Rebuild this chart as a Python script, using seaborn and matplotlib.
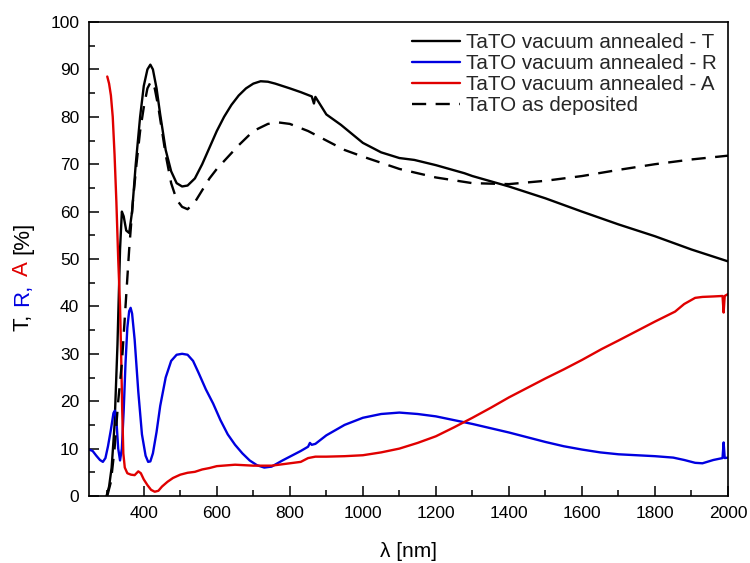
import matplotlib
matplotlib.use("Agg")
import matplotlib.pyplot as plt
import seaborn as sns
import pandas as pd
from matplotlib.ticker import MultipleLocator

# ---------------- data ----------------
wl_T = [298, 305, 312, 320, 328, 335, 340, 345, 352, 360, 368, 378, 390, 400, 410,
        418, 425, 435, 445, 460, 475, 490, 505, 520, 540, 560, 580, 600, 620, 640,
        660, 680, 700, 720, 740, 760, 780, 800, 830, 860, 866, 870, 900, 940, 1000,
        1050, 1100, 1141, 1200, 1278, 1300, 1400, 1500, 1600, 1700, 1800, 1900, 2000]
T_ann = [0, 2, 6, 15, 32, 52, 60, 59, 56, 55.5, 60, 70, 80, 86.5, 90,
         91, 90, 86, 80.5, 73, 68.5, 66, 65.3, 65.5, 67, 70, 73.5, 77, 80, 82.5,
         84.5, 86, 87, 87.5, 87.4, 87, 86.5, 86, 85.2, 84.3, 82.8, 84.2, 80.5, 78.3, 74.5,
         72.5, 71.3, 70.9, 69.8, 68.1, 67.5, 65.3, 62.8, 60, 57.3, 54.8, 52, 49.5]

wl_D = [300, 310, 320, 330, 340, 350, 360, 370, 380, 390, 400, 410, 420, 430, 440,
        450, 460, 475, 490, 505, 520, 540, 560, 580, 600, 630, 660, 700, 740, 770,
        800, 850, 900, 950, 1000, 1100, 1200, 1300, 1400, 1500, 1600, 1700, 1800,
        1900, 2000]
T_dep = [0, 3, 10, 20, 28, 40, 52, 62, 70, 77, 82, 86, 87.5, 86, 82,
         77, 72, 66, 62.5, 61, 60.5, 62, 64.5, 67, 69, 71.5, 74, 77, 78.5, 78.8,
         78.5, 77, 75, 73, 71.6, 69, 67.2, 66, 65.8, 66.5, 67.5, 68.8, 70,
         71, 71.8]

wl_R = [250, 260, 270, 280, 288, 295, 302, 310, 317, 321, 325, 330, 335, 340, 345,
        350, 355, 360, 364, 368, 375, 385, 395, 405, 412, 418, 425, 435, 445, 460,
        475, 490, 505, 520, 535, 550, 570, 590, 610, 630, 650, 670, 690, 710, 730,
        750, 780, 800, 830, 850, 855, 860, 870, 900, 950, 1000, 1050, 1100, 1150,
        1200, 1250, 1300, 1350, 1400, 1450, 1500, 1550, 1600, 1650, 1700, 1750,
        1800, 1850, 1880, 1910, 1930, 1960, 1985, 1988, 1991, 2000]
R_ann = [9.8, 9.5, 8.5, 7.6, 7.2, 8, 10.5, 14, 17.5, 18, 16, 10, 7.5, 10, 18,
         28, 35.5, 39, 39.7, 38.5, 33, 22, 13, 8.5, 7.2, 7.3, 9, 13.5, 19, 25,
         28.5, 29.8, 30, 29.8, 28.5, 26, 22.5, 19.5, 16, 13, 10.8, 9, 7.5, 6.5, 6.0,
         6.2, 7.5, 8.3, 9.5, 10.4, 11.2, 10.8, 11, 12.8, 15, 16.5, 17.3, 17.6, 17.3,
         16.8, 16, 15.2, 14.3, 13.4, 12.4, 11.4, 10.5, 9.8, 9.2, 8.8, 8.6,
         8.4, 8.1, 7.6, 7.0, 6.9, 7.6, 8.0, 11.3, 8.0, 8.1]

wl_A = [300, 305, 310, 315, 320, 325, 330, 335, 338, 341, 344, 348, 355, 365, 375,
        385, 392, 400, 410, 420, 430, 440, 450, 465, 480, 500, 520, 540, 560, 580,
        600, 650, 700, 750, 800, 830, 850, 870, 900, 950, 1000, 1050, 1100, 1150,
        1200, 1250, 1300, 1350, 1400, 1450, 1500, 1550, 1600, 1654, 1700, 1750,
        1800, 1855, 1880, 1910, 1930, 1960, 1985, 1988, 1991, 2000]
A_ann = [88.5, 87, 84.5, 80, 72, 62, 50, 40, 30, 18, 9, 6, 4.8, 4.5, 4.4,
         5.2, 4.8, 3.5, 2.3, 1.3, 0.9, 1.1, 2, 3, 3.8, 4.5, 4.9, 5.1, 5.6, 5.9,
         6.3, 6.6, 6.4, 6.4, 6.9, 7.2, 8, 8.3, 8.3, 8.4, 8.6, 9.2, 10, 11.2,
         12.6, 14.5, 16.5, 18.6, 20.8, 22.8, 24.8, 26.7, 28.7, 31, 32.8, 34.8,
         36.8, 38.9, 40.5, 41.8, 42, 42.1, 42.2, 38.7, 42.2, 42.6]

labels = ["TaTO vacuum annealed - T", "TaTO vacuum annealed - R",
          "TaTO vacuum annealed - A", "TaTO as deposited"]
xticks_major = list(range(400, 2001, 200))

# ---------------- style ----------------
sns.set_style("ticks")
plt.rcParams['font.family'] = ['Liberation Sans', 'DejaVu Sans']

W, H = 750, 563
fig = plt.figure(figsize=(W / 100, H / 100), dpi=100)
ax = fig.add_axes([89 / W, 1 - 496 / H, (728 - 89) / W, (496 - 22) / H])

dfT = pd.DataFrame({"wl": wl_T, "v": T_ann})
dfR = pd.DataFrame({"wl": wl_R, "v": R_ann})
dfA = pd.DataFrame({"wl": wl_A, "v": A_ann})
dfD = pd.DataFrame({"wl": wl_D, "v": T_dep})

lw = 1.7
sns.lineplot(data=dfT, x="wl", y="v", ax=ax, color="black", lw=lw,
             label=labels[0], sort=False, estimator=None)
sns.lineplot(data=dfR, x="wl", y="v", ax=ax, color="#0000e0", lw=lw,
             label=labels[1], sort=False, estimator=None)
sns.lineplot(data=dfA, x="wl", y="v", ax=ax, color="#e00000", lw=lw,
             label=labels[2], sort=False, estimator=None)
sns.lineplot(data=dfD, x="wl", y="v", ax=ax, color="black", lw=lw,
             linestyle=(0, (6, 4)), label=labels[3], sort=False, estimator=None)

ax.set_xlim(250, 2000)
ax.set_ylim(0, 100)
ax.set_xticks(xticks_major)
ax.xaxis.set_minor_locator(MultipleLocator(100))
ax.yaxis.set_major_locator(MultipleLocator(10))
ax.yaxis.set_minor_locator(MultipleLocator(5))
ax.tick_params(which="both", direction="in", top=False, right=False,
               colors="black", labelsize=12.5, width=1.1)
ax.tick_params(which="major", length=7, pad=7)
ax.tick_params(which="minor", length=4)
for s in ax.spines.values():
    s.set_visible(True)
    s.set_color("black")
    s.set_linewidth(1.2)

ax.set_xlabel("λ [nm]", fontsize=15, labelpad=15, color="black")
ax.set_ylabel("")

leg = ax.legend(loc="upper right", frameon=False, fontsize=14.8,
                handlelength=2.3, handletextpad=0.3, labelspacing=0.1,
                borderaxespad=0.05, borderpad=0.5)

# ---------------- multi-coloured y label ----------------
pieces = [("T,", "black"), ("R,", "#0000e0"), ("A", "#e00000"), ("[%]", "black")]
fs_y = 16
fig.canvas.draw()
renderer = fig.canvas.get_renderer()


def adv(s):
    """Advance width (pixels) of string s, measured between two sentinels."""
    t1 = fig.text(0, 0, "|" + s + "|", fontsize=fs_y)
    t2 = fig.text(0, 0, "||", fontsize=fs_y)
    w = t1.get_window_extent(renderer).width - t2.get_window_extent(renderer).width
    t1.remove()
    t2.remove()
    return w


space = adv(" ") + 1.5
advs = [adv(p) for p, _ in pieces]
L = sum(advs) + space * (len(pieces) - 1)
cx, cy = 28, 276  # baseline x / centre y in pixels (from top)
y = (H - cy) - L / 2
for (p, c), a in zip(pieces, advs):
    fig.text(cx / W, y / H, p, rotation=90, rotation_mode="anchor",
             ha="left", va="baseline", fontsize=fs_y, color=c)
    y += a + space

fig.savefig("out.png", dpi=100)
